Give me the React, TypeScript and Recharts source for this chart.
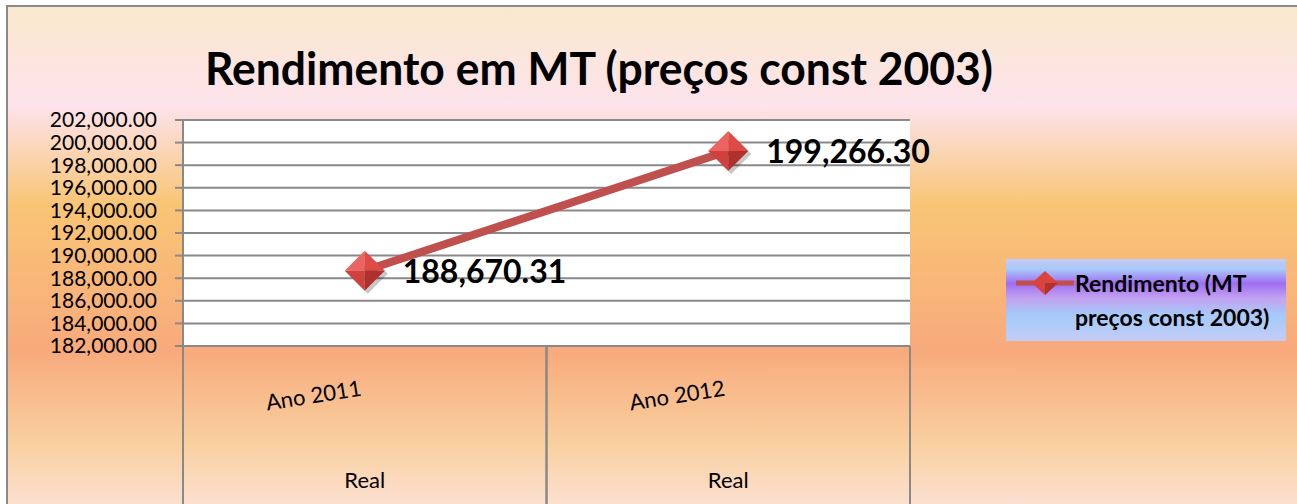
import { LineChart, Line, XAxis, YAxis, CartesianGrid, Legend, LabelList } from "recharts";

const categories = ["Ano 2011", "Ano 2012"];
const groups = ["Real", "Real"];
const rendimento = [188670.31, 199266.3];
const yTicks = [182000, 184000, 186000, 188000, 190000, 192000, 194000, 196000, 198000, 200000, 202000];
const seriesName = "Rendimento (MT preços const 2003)";
const title = "Rendimento em MT (preços const 2003)";

const data = categories.map((c, i) => ({ ano: c, grupo: groups[i], rendimento: rendimento[i] }));

const W = 1297;
const H = 504;
const margin = { top: 120, right: 387, bottom: 0, left: 0 };
const Y_W = 183;
const X_H = 158;
const PLOT_W = W - margin.left - margin.right - Y_W;
const HALF_BAND = PLOT_W / categories.length / 2;
const FONT = "Lato, 'Open Sans', sans-serif";
const GRID = "#898989";

const fmt = (v: number) =>
  v.toLocaleString("en-US", { minimumFractionDigits: 2, maximumFractionDigits: 2 });

const Diamond = (props: any) => {
  const { cx, cy } = props;
  if (cx == null || cy == null) return null;
  const r = 20;
  const s = 3;
  return (
    <g>
      <polygon
        points={`${cx + s},${cy - r + s} ${cx + r + s},${cy + s} ${cx + s},${cy + r + s} ${cx - r + s},${cy + s}`}
        fill="rgba(0,0,0,0.22)"
      />
      <polygon points={`${cx},${cy - r} ${cx - r},${cy} ${cx},${cy}`} fill="#EC6461" />
      <polygon points={`${cx},${cy - r} ${cx + r},${cy} ${cx},${cy}`} fill="#DE4B47" />
      <polygon points={`${cx - r},${cy} ${cx},${cy + r} ${cx},${cy}`} fill="#CF413D" />
      <polygon points={`${cx + r},${cy} ${cx},${cy + r} ${cx},${cy}`} fill="#AF302C" />
    </g>
  );
};

const ValueLabel = (props: any) => {
  const { x, y, value } = props;
  return (
    <text x={x + 38} y={y + 12} fontFamily={FONT} fontWeight={700} fontSize={32} fill="#000">
      {fmt(value)}
    </text>
  );
};

const CategoryTick = (props: any) => {
  const { x, y, index } = props;
  return (
    <g>
      <line x1={x - HALF_BAND} y1={y} x2={x - HALF_BAND} y2={y + X_H} stroke={GRID} strokeWidth={2} />
      <line x1={x + HALF_BAND} y1={y} x2={x + HALF_BAND} y2={y + X_H} stroke={GRID} strokeWidth={2} />
      <text
        x={x - 50}
        y={y + 57}
        textAnchor="middle"
        fontFamily={FONT}
        fontSize={22}
        fill="#000"
        transform={`rotate(-9 ${x - 50} ${y + 57})`}
      >
        {categories[index]}
      </text>
      <text x={x} y={y + 142} textAnchor="middle" fontFamily={FONT} fontSize={22} fill="#000">
        {groups[index]}
      </text>
    </g>
  );
};

const LegendBox = (props: any) => {
  const item = props.payload && props.payload[0];
  const color = item ? item.color : "#C0504D";
  return (
    <div
      style={{
        position: "relative",
        width: 280,
        height: 82,
        background:
          "linear-gradient(to bottom, #C6C9F6 0%, #A9CAF8 12%, #A06EF3 30%, #C3A2F1 48%, #A6C9F8 68%, #B4CCF7 85%, #C6CBF6 100%)",
      }}
    >
      <svg width={64} height={30} style={{ position: "absolute", left: 8, top: 9 }}>
        <line x1={2} y1={15} x2={60} y2={15} stroke={color} strokeWidth={5} />
        <polygon points="31,3 44,15 31,27 18,15" fill="#D9443F" />
        <polygon points="31,15 44,15 31,27" fill="#B0322E" />
      </svg>
      <div
        style={{
          position: "absolute",
          left: 69,
          top: 7,
          width: 212,
          fontFamily: FONT,
          fontWeight: 700,
          fontSize: 23,
          lineHeight: "34px",
          color: "#000",
          whiteSpace: "normal",
        }}
      >
        {item ? item.value : seriesName}
      </div>
    </div>
  );
};

export default function App() {
  return (
    <div style={{ position: "absolute", left: 0, top: 0, width: W, height: H, overflow: "hidden", background: "#fff" }}>
      <div
        style={{
          position: "absolute",
          left: 6,
          top: 5,
          width: 1310,
          height: 520,
          border: "2px solid #8a8a8a",
          background:
            "linear-gradient(to bottom, #FAE8CD 0%, #FDE3EC 19%, #F9C575 38%, #F8AA7C 66%, #F9D0A0 84%, #FDE5E2 100%)",
        }}
      />
      <svg width={W} height={110} style={{ position: "absolute", left: 0, top: 0 }}>
        <text
          x={205}
          y={85}
          fontFamily={FONT}
          fontWeight={700}
          fontSize={46}
          fill="#000"
          textLength={788}
          lengthAdjust="spacingAndGlyphs"
        >
          {title}
        </text>
      </svg>
      <div style={{ position: "absolute", left: 0, top: 0 }}>
        <LineChart width={W} height={H} data={data} margin={margin}>
          <CartesianGrid horizontal vertical={false} stroke={GRID} strokeWidth={2} fill="#fff" fillOpacity={1} />
          <XAxis
            dataKey="ano"
            height={X_H}
            interval={0}
            padding={{ left: HALF_BAND, right: HALF_BAND }}
            tickSize={0}
            tickMargin={0}
            tickLine={false}
            axisLine={{ stroke: GRID, strokeWidth: 2 }}
            tick={<CategoryTick />}
          />
          <YAxis
            width={Y_W}
            domain={[182000, 202000]}
            ticks={yTicks}
            interval={0}
            tickSize={8}
            tickMargin={18}
            tickFormatter={fmt}
            axisLine={{ stroke: GRID, strokeWidth: 2 }}
            tickLine={{ stroke: GRID, strokeWidth: 2 }}
            tick={{ fill: "#000", fontSize: 21, fontFamily: FONT }}
          />
          <Legend
            layout="horizontal"
            align="center"
            verticalAlign="middle"
            content={<LegendBox />}
            wrapperStyle={{ left: 1006, top: 259, width: 280, height: 82 }}
          />
          <Line
            type="linear"
            dataKey="rendimento"
            name={seriesName}
            stroke="#C0504D"
            strokeWidth={8}
            dot={<Diamond />}
            activeDot={false}
            isAnimationActive={false}
          >
            <LabelList dataKey="rendimento" content={<ValueLabel />} />
          </Line>
        </LineChart>
      </div>
    </div>
  );
}
